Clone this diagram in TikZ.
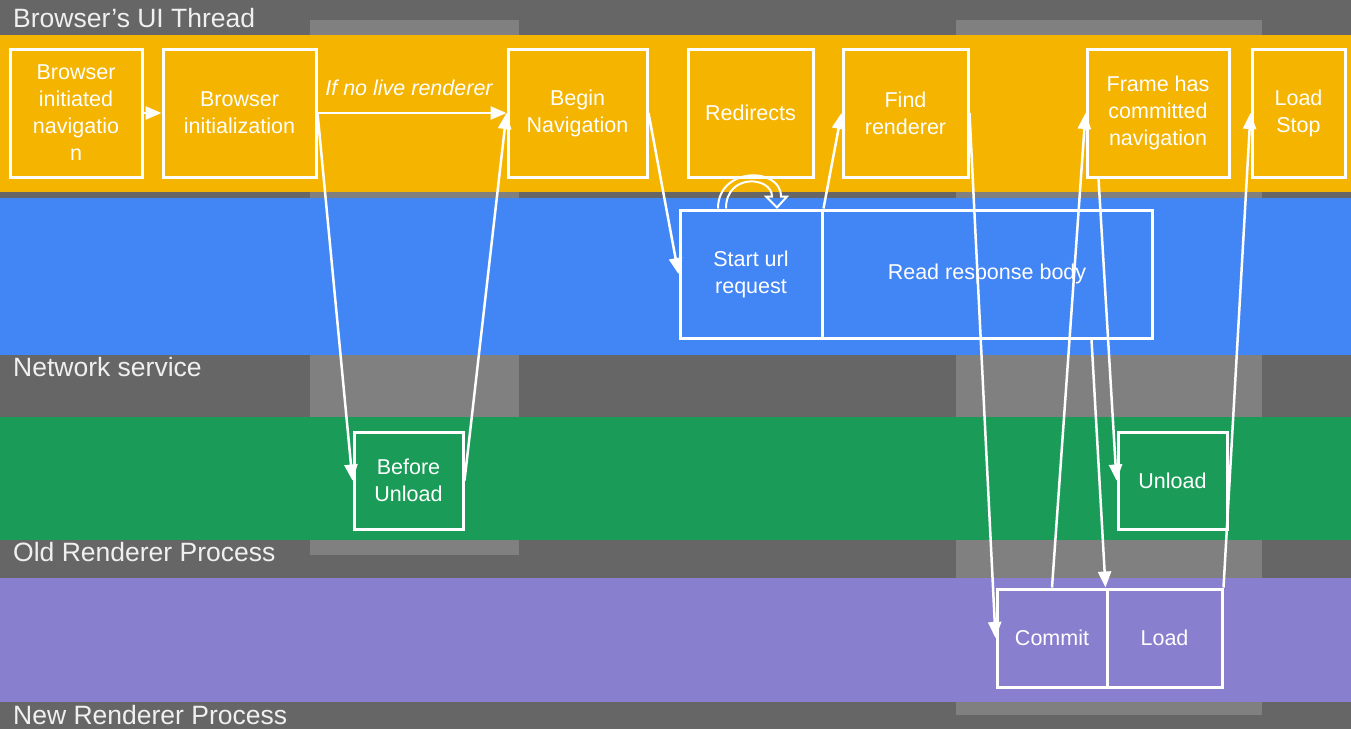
\documentclass[tikz,border=0pt]{standalone}
\usepackage{fontspec}
\setmainfont{Liberation Sans}
\usetikzlibrary{arrows.meta,calc}
\definecolor{bgdark}{HTML}{666666}
\definecolor{colgray}{HTML}{808080}
\definecolor{uiyellow}{HTML}{F4B400}
\definecolor{netblue}{HTML}{4285F4}
\definecolor{oldgreen}{HTML}{1A9C58}
\definecolor{newpurple}{HTML}{887FCE}
\newcommand\bxfont{\fontsize{21.5}{27}\selectfont}
\newcommand\lnfont{\fontsize{26.5}{30}\selectfont}
\newcommand\itlfont{\fontsize{21.5}{27}\selectfont\itshape}
\begin{document}
\begin{tikzpicture}[x=1pt,y=-1pt,
  box/.style={draw=white,line width=3pt,text=white,align=center,inner sep=0pt,font=\bxfont},
  conn/.style={draw=white,line width=2.5pt,-{Triangle[length=16pt,width=13pt]}},
  lane/.style={anchor=base west,text=white!94!black,font=\lnfont,inner sep=0pt}]
\useasboundingbox (0,0) rectangle (1351,729);
% backgrounds
\fill[bgdark] (0,0) rectangle (1351,729);
\fill[colgray] (310,20) rectangle (519,555);
\fill[colgray] (956,20) rectangle (1262,715);
\fill[uiyellow] (0,35) rectangle (1351,192);
\fill[netblue] (0,198) rectangle (1351,355);
\fill[oldgreen] (0,417) rectangle (1351,540);
\fill[newpurple] (0,578) rectangle (1351,702);
% lane labels
\node[lane] (l1) at (13,27) {Browser's UI Thread};
\node[lane] (l2) at (13,376) {Network service};
\node[lane] (l3) at (13,561) {Old Renderer Process};
\node[lane] (l4) at (13,724) {New Renderer Process};
% UI thread boxes
\node[box,minimum width=132pt,minimum height=128pt] (b1) at (76,113) {Browser\\initiated\\navigatio\\n};
\node[box,minimum width=153pt,minimum height=128pt] (b2) at (239.5,113) {Browser\\initialization};
\node[box,minimum width=139pt,minimum height=128pt] (begin) at (577.5,113) {Begin\\Navigation};
\node[box,minimum width=125pt,minimum height=128pt] (redir) at (750.5,113) {Redirects};
\node[box,minimum width=125pt,minimum height=128pt] (find) at (905.5,113) {Find\\renderer};
\node[box,minimum width=142pt,minimum height=128pt] (frame) at (1158,113) {Frame has\\committed\\navigation};
\node[box,minimum width=93pt,minimum height=128pt] (loadstop) at (1298.5,113) {Load\\Stop};
% network
\node[box,minimum width=142pt,minimum height=128pt] (start) at (751,274) {Start url\\request};
\node[box,minimum width=330pt,minimum height=128pt] (read) at (987,274) {Read response body};
% old renderer
\node[box,minimum width=109pt,minimum height=97pt] (bu) at (408.5,480.5) {Before\\Unload};
\node[box,minimum width=109pt,minimum height=97pt] (unload) at (1172.5,480.5) {Unload};
% new renderer
\node[box,minimum width=110pt,minimum height=98pt] (commit) at (1052,638) {Commit};
\node[box,minimum width=115pt,minimum height=98pt] (load) at (1164.5,638) {Load};
% connectors
\draw[conn] (b1.east) -- (b2.west);
\draw[conn] (b2.east) -- node[above=16pt,xshift=-3pt,font=\itlfont,text=white,inner sep=0pt] {If no live renderer} (begin.west);
\draw[conn] (b2.east) -- (bu.west);
\draw[conn] (bu.east) -- (begin.west);
\draw[conn] (begin.east) -- (start.west);
\draw[white,line width=2pt,line join=miter]
  ($(start.north)+(-33,0)$) .. controls +(0,-42) and +(0,-30) .. ($(start.north)+(30,-12)$)
  -- ($(start.north)+(36,-12)$) -- ($(start.north)+(26,-1)$) -- ($(start.north)+(15,-12)$)
  -- ($(start.north)+(21,-12)$) .. controls +(0,-20) and +(0,-36) .. ($(start.north)+(-25,0)$);
\draw[conn] (start.north east) -- (find.west);
\draw[conn] (find.east) -- (commit.west);
\draw[conn] (commit.north) -- (frame.west);
\draw[conn] ($(frame.south west)+(13,0)$) -- (unload.west);
\draw[conn] ($(read.south east)+(-62,0)$) -- (load.north west);
\draw[conn] (load.north east) -- (loadstop.west);
\end{tikzpicture}
\end{document}
